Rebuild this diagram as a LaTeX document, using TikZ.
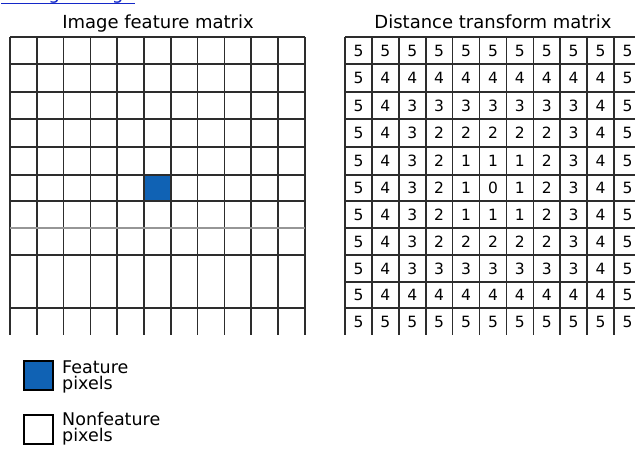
\documentclass[tikz,border=0pt]{standalone}
\usepackage{fontspec}
\setmainfont{DejaVu Sans}
\definecolor{featblue}{RGB}{16,98,180}
\definecolor{gridc}{RGB}{45,45,45}
\definecolor{faintc}{RGB}{150,150,150}
\definecolor{linkblue}{RGB}{20,40,200}
\begin{document}
\begin{tikzpicture}[x=1pt,y=-1pt,
  gridline/.style={draw=gridc,line width=1.6pt},
  faintline/.style={draw=faintc,line width=1.1pt},
  titletxt/.style={font=\fontsize{18}{21}\selectfont,inner sep=0pt,anchor=base,text=black},
  digit/.style={font=\fontsize{15.5}{18}\selectfont,inner sep=0pt,text=black},
  legtxt/.style={font=\fontsize{17.5}{20}\selectfont,inner sep=0pt,anchor=base west,text=black},
  legbox/.style={draw=black,line width=2.2pt,minimum width=29pt,minimum height=29pt,inner sep=0pt,anchor=north west}]
\useasboundingbox (0,0) rectangle (635,448);
\begin{scope}
\clip (0,0) rectangle (635,448);
% clipped link at the top
\node[anchor=base west,inner sep=0pt,text=linkblue,font=\fontsize{18.5}{22}\selectfont] (link) at (1,-0.5) {Enlarge image};
\draw[linkblue,line width=1.4pt] (link.south west) -- (link.south east);
% titles
\node[titletxt] (t1) at (158,28) {Image feature matrix};
\node[titletxt] (t2) at (493,28) {Distance transform matrix};
% feature pixel
\node[fill=featblue,minimum width=26.8pt,minimum height=26pt,inner sep=0pt,anchor=north west] (featpix) at ({10+5*26.8},175) {};
% left grid
\foreach \i in {0,...,11} \draw[gridline] ({10+26.8*\i},37) -- ({10+26.8*\i},335);
\foreach \yy in {37,64,92,119,147,175,201,255,308} \draw[gridline] (10,\yy) -- (304.8,\yy);
\draw[faintline] (10,228) -- (304.8,228);
% right grid
\foreach \i in {0,...,11} \draw[gridline] ({345+26.9*\i},37) -- ({345+26.9*\i},335);
\foreach \yy in {37,64,92,119,147,175,201,228,255,282,308} \draw[gridline] (345,\yy) -- (641,\yy);
\foreach \r/\yc in {1/50.5,2/78,3/105.5,4/133,5/161,6/188,7/214.5,8/241.5,9/268.5,10/295,11/321.5}
  \foreach \c in {1,...,11} {
    \pgfmathtruncatemacro\vv{max(abs(\r-6),abs(\c-6))}
    \node[digit] (d-\r-\c) at ({345+26.9*(\c-0.5)},\yc) {\vv};
  }
% legend
\node[legbox,fill=featblue] (legf) at (23,360) {};
\node[legtxt] (legf1) at (62,373) {Feature};
\node[legtxt] (legf2) at (62,389.5) {pixels};
\node[legbox,fill=white] (legn) at (23,414) {};
\node[legtxt] (legn1) at (62,425) {Nonfeature};
\node[legtxt] (legn2) at (62,441.5) {pixels};
\end{scope}
\end{tikzpicture}
\end{document}
